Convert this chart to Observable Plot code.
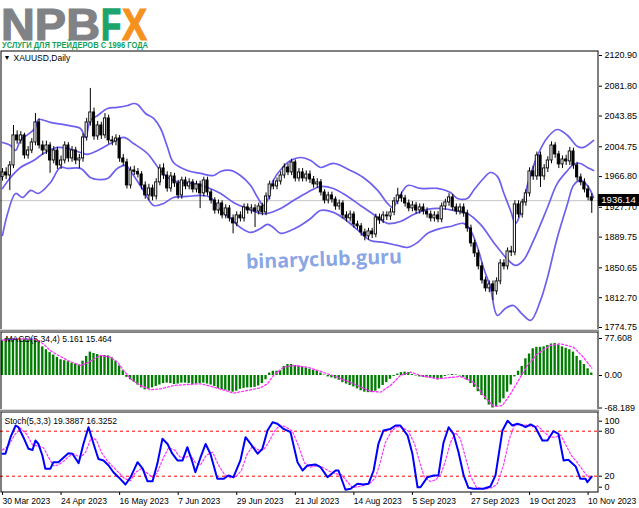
<!DOCTYPE html>
<html><head><meta charset="utf-8">
<script src="https://cdn.jsdelivr.net/npm/d3@7"></script>
<script src="https://cdn.jsdelivr.net/npm/@observablehq/plot@0.6"></script>
<style>
html,body{margin:0;padding:0;background:#fff;}
#wrap{position:relative;width:639px;height:508px;overflow:hidden;background:#fff;font-family:"Liberation Sans",Arial,sans-serif;}
.pane{position:absolute;left:0;}
.sep{position:absolute;left:0;width:599px;height:3px;background:#8c8c8c;border-top:1px solid #d8d8d8;box-sizing:border-box;}
#tag{position:absolute;left:598px;width:41px;height:12px;background:#000;color:#fff;font-size:9.5px;line-height:12px;text-align:center;}
</style></head><body>
<div id="wrap">
<svg id="logo" width="639" height="50" style="position:absolute;left:0;top:0">
  <text x="1" y="39.5" font-family="Liberation Sans, Arial" font-weight="bold" font-size="44" fill="#808285" stroke="#808285" stroke-width="1.2" textLength="99" lengthAdjust="spacingAndGlyphs">NPB</text>
  <text x="0" y="0" transform="translate(101,39.5) scale(1,1.333)" font-family="Liberation Sans, Arial" font-weight="bold" font-size="33" fill="#1ca46d" stroke="#1ca46d" stroke-width="1">F</text>
  <text x="0" y="0" transform="translate(122,39.5) scale(1,1.173)" font-family="Liberation Sans, Arial" font-weight="bold" font-size="37.5" fill="#f5911e" stroke="#f5911e" stroke-width="1">X</text>
  <text x="2" y="47.5" font-family="Liberation Sans, Arial" font-weight="bold" font-size="9.5" fill="#149f5a" textLength="146" lengthAdjust="spacingAndGlyphs">УСЛУГИ ДЛЯ ТРЕЙДЕРОВ С 1996 ГОДА</text>
</svg>
<div id="p1" class="pane" style="top:50px"></div>
<div id="p2" class="pane" style="top:331px"></div>
<div id="p3" class="pane" style="top:411px"></div>
<div class="sep" style="top:329px"></div>
<div class="sep" style="top:409px"></div>
<svg width="639" height="508" style="position:absolute;left:0;top:0;pointer-events:none">
  <text x="324" y="266" text-anchor="middle" transform="rotate(-2 324 262)" font-family="Open Sans, DejaVu Sans, sans-serif" font-weight="bold" font-size="20" fill="#7a9ae2" fill-opacity="0.9" textLength="156" lengthAdjust="spacingAndGlyphs">binaryclub.guru</text>
</svg>
</div>
<script>
// ---------- price data (XAUUSD daily, bar index 0 = 30 Mar 2023) ----------
const open = [1966.0,1972.1,1968.2,1981.0,2019.2,2012.8,2019.2,1993.7,2000.0,2010.2,2035.7,2006.4,2000.0,2006.4,1987.3,2000.0,1981.0,1987.3,2006.4,1989.9,2000.0,1987.3,1989.9,2016.6,2035.7,2048.4,2017.9,2031.9,2019.2,2040.8,2012.8,2011.5,2015.3,1989.9,1984.8,1955.5,1974.6,1972.8,1969.5,1955.5,1942.8,1951.7,1941.5,1959.4,1977.2,1968.2,1951.7,1967.0,1958.1,1942.8,1961.9,1954.3,1959.4,1950.4,1956.8,1945.4,1961.9,1946.6,1936.4,1923.7,1932.6,1917.4,1926.3,1913.6,1907.2,1917.4,1913.6,1927.6,1923.7,1926.3,1922.4,1928.8,1921.2,1941.5,1956.8,1954.3,1960.6,1968.2,1978.4,1972.1,1984.8,1964.4,1972.1,1964.4,1969.5,1963.1,1956.8,1959.4,1946.6,1936.4,1942.8,1937.7,1928.8,1932.6,1917.4,1913.6,1918.6,1905.9,1903.4,1895.7,1890.7,1897.0,1893.2,1914.8,1911.0,1917.4,1916.1,1921.2,1935.2,1942.8,1939.0,1932.6,1926.3,1930.1,1923.7,1927.6,1922.4,1918.6,1913.6,1917.4,1912.3,1928.8,1933.9,1940.3,1927.6,1922.4,1927.6,1919.9,1900.8,1881.8,1869.0,1852.5,1834.7,1824.5,1829.6,1820.7,1833.4,1856.3,1852.5,1871.6,1870.3,1931.4,1918.6,1933.9,1945.4,1973.4,1967.0,1993.7,1967.0,1977.2,1987.3,2006.4,1995.0,1982.3,1988.6,1986.1,1998.8,1981.0,1965.7,1959.4,1950.4,1940.3];
const high = [1977,1978,1986,2031.8,2025,2024,2022,2005,2015,2047,2040,2012,2012,2010,2005,2004,1993,2011,2010,2005,2004,1995,2021,2041,2079,2054,2037,2036,2047,2045,2018,2020,2019,1995,1989,1979,1980,1977,1973,1960,1957,1956,1964,1982,1983,1973,1972,1971,1962,1966,1966,1964,1963,1961,1961,1966,1966,1950,1940,1937,1936,1931,1930,1918,1922,1922,1932,1932,1931,1931,1933,1933,1946,1961,1962,1965,1973,1983,1983,1989,1988,1977,1977,1974,1974,1967,1964,1963,1950,1947,1947,1941,1937,1936,1922,1923,1922,1910,1907,1900,1901,1901,1919,1919,1922,1922,1926,1940,1952,1947,1943,1937,1935,1934,1932,1932,1927,1923,1922,1922,1933,1938,1945,1944,1932,1932,1932,1924,1905,1886,1873,1857,1839,1834,1834,1838,1861,1861,1876,1878,1936,1936,1938,1950,1978,1980,1998,1998,1982,1992,2011,2010,1999,1993,1994,2004,2003,1985,1970,1964,1955,1945];
const low = [1961,1963,1949,1977,2008,2008,1989,1989,1996,2006,2002,1994,1995,1971,1983,1976,1976,1983,1985,1985,1982,1977,1985,2012,2031,2013,2013,2014,2015,2008,2006,2006,1985,1980,1951,1951,1968,1965,1950,1938,1936,1936,1937,1955,1963,1947,1947,1953,1938,1938,1950,1950,1946,1946,1926,1941,1942,1932,1919,1919,1913,1913,1909,1894,1903,1909,1909,1919,1919,1902,1918,1917,1917,1937,1950,1950,1956,1964,1968,1968,1960,1960,1960,1960,1958,1952,1952,1942,1932,1932,1933,1924,1924,1913,1909,1909,1901,1899,1891,1885,1886,1888,1889,1906,1907,1911,1911,1917,1931,1934,1928,1922,1922,1919,1919,1918,1914,1909,1909,1908,1908,1924,1929,1923,1918,1918,1915,1896,1877,1864,1848,1830,1820,1819,1809,1816,1829,1848,1848,1865,1866,1914,1914,1929,1941,1962,1962,1953,1962,1972,1983,1990,1977,1977,1981,1981,1976,1961,1955,1946,1936,1920];
const close = [1972.1,1968.2,1981.0,2019.2,2012.8,2019.2,1993.7,2000.0,2010.2,2035.7,2006.4,2000.0,2006.4,1987.3,2000.0,1981.0,1987.3,2006.4,1989.9,2000.0,1987.3,1989.9,2016.6,2035.7,2048.4,2017.9,2031.9,2019.2,2040.8,2012.8,2011.5,2015.3,1989.9,1984.8,1955.5,1974.6,1972.8,1969.5,1955.5,1942.8,1951.7,1941.5,1959.4,1977.2,1968.2,1951.7,1967.0,1958.1,1942.8,1961.9,1954.3,1959.4,1950.4,1956.8,1945.4,1961.9,1946.6,1936.4,1923.7,1932.6,1917.4,1926.3,1913.6,1907.2,1917.4,1913.6,1927.6,1923.7,1926.3,1922.4,1928.8,1921.2,1941.5,1956.8,1954.3,1960.6,1968.2,1978.4,1972.1,1984.8,1964.4,1972.1,1964.4,1969.5,1963.1,1956.8,1959.4,1946.6,1936.4,1942.8,1937.7,1928.8,1932.6,1917.4,1913.6,1918.6,1905.9,1903.4,1895.7,1890.7,1897.0,1893.2,1914.8,1911.0,1917.4,1916.1,1921.2,1935.2,1942.8,1939.0,1932.6,1926.3,1930.1,1923.7,1927.6,1922.4,1918.6,1913.6,1917.4,1912.3,1928.8,1933.9,1940.3,1927.6,1922.4,1927.6,1919.9,1900.8,1881.8,1869.0,1852.5,1834.7,1824.5,1829.6,1820.7,1833.4,1856.3,1852.5,1871.6,1870.3,1931.4,1918.6,1933.9,1945.4,1973.4,1967.0,1993.7,1967.0,1977.2,1987.3,2006.4,1995.0,1982.3,1988.6,1986.1,1998.8,1981.0,1965.7,1959.4,1950.4,1940.3,1936.14];
const lastPrice = 1936.14;

// ---------- Bollinger bands (read at sample bars) ----------
const bbUpIdx = [0,2.2,3.6,4.9,7.7,9.0,9.8,13.1,17.8,21.3,22.7,24.0,26.0,28.7,31.4,34.2,35.8,36.9,39.1,41.3,43.2,45.1,46.7,50.5,54.1,57.7,59.6,62.3,65.0,67.8,69.7,71.3,72.4,74.0,76.5,78.7,81.4,84.2,86.9,90.4,95.1,98.6,102.5,105.2,106.6,108.2,110.7,114.2,118.9,122.4,124.3,127.0,128.7,131.4,133.3,135.2,136.9,138.8,140.2,141.5,143.4,146.2,148.9,151.6,154.4,157.1,158.7,161.5];
const bbUp = [2010.2,2006.4,2000.0,2012.8,2023.0,2029.3,2039.5,2035.7,2031.9,2028.0,2016.6,2038.2,2044.6,2053.5,2054.8,2057.3,2059.8,2058.6,2047.1,2040.8,2028.0,2003.9,1984.8,1974.6,1970.8,1968.2,1973.3,1974.6,1968.2,1955.5,1940.2,1930.1,1936.4,1961.9,1978.4,1987.3,1991.1,1987.3,1978.4,1983.5,1974.6,1965.7,1949.2,1932.6,1927.5,1939.0,1955.5,1951.7,1951.7,1946.6,1939.0,1939.0,1949.2,1964.4,1972.0,1967.0,1946.6,1923.7,1907.2,1919.9,1955.5,1993.7,2016.6,2026.7,2019.1,2005.1,2003.9,2012.8];
const bbMidIdx = [0,2.2,4.9,8.5,11.2,15.0,17.8,21.3,23.2,26.0,29.5,33.1,35.8,39.6,42.3,45.1,48.6,52.2,56.0,59.6,63.1,66.9,70.5,72.4,76.0,79.5,83.3,86.9,90.4,94.3,97.8,101.4,105.2,108.7,112.3,116.1,119.7,123.2,127.0,130.6,134.2,138.0,140.2,142.3,145.1,148.9,151.6,154.4,156.0,157.9,159.8,161.5];
const bbMid = [1951.7,1965.7,1978.4,1987.3,1996.2,2003.9,2002.6,1997.5,1995.0,2000.0,2008.9,2016.6,2008.9,1996.2,1979.7,1965.7,1959.3,1958.1,1953.0,1945.3,1933.9,1926.2,1919.9,1919.9,1926.2,1936.4,1946.6,1954.2,1951.7,1941.5,1930.1,1918.6,1907.2,1909.7,1918.6,1925.0,1926.2,1923.7,1919.9,1905.9,1883.0,1861.4,1853.7,1860.1,1885.5,1927.5,1958.1,1974.6,1982.2,1983.5,1978.4,1974.6];
const bbLoIdx = [0,1.4,3.6,5.5,7.7,9.8,13.1,15.8,17.8,21.3,24.0,26.0,28.7,31.4,33.6,35.8,38.5,41.3,44.0,46.7,50.5,54.1,56.8,59.6,62.3,65.0,67.8,70.5,72.4,74.0,76.0,78.7,81.4,84.2,86.9,90.4,94.3,97.8,100.5,104.1,107.9,110.7,113.4,116.1,119.7,122.4,126.0,127.9,129.8,131.4,133.3,135.2,137.4,139.6,141.8,144.3,147.0,148.9,151.6,154.4,156.0,157.9,159.8,161.5];
const bbLo = [1891.9,1919.9,1945.3,1940.2,1949.2,1945.3,1959.3,1978.4,1977.2,1977.2,1965.7,1963.1,1964.4,1977.2,1981.0,1968.2,1949.2,1930.1,1932.6,1940.2,1941.5,1942.8,1940.2,1923.7,1913.5,1902.1,1895.7,1900.8,1905.9,1902.1,1894.5,1898.3,1904.6,1913.5,1923.7,1921.2,1909.7,1895.7,1885.5,1883.0,1879.2,1876.6,1883.0,1894.5,1900.8,1903.3,1907.2,1898.3,1876.6,1851.2,1825.7,1790.1,1799.0,1802.8,1792.7,1783.8,1809.2,1838.5,1889.4,1932.6,1955.5,1961.9,1955.5,1940.2];

// ---------- MACD(5,34,4) ----------
const macd = [73,77.608,77,77,77,77,76,76,76,75,73,60,54,48,43,38,33,31,29,26,24,22,30,40,49,46,44,42,42,41,37,30,20,10,-4,-9,-14,-20,-26,-30,-29,-26,-23,-20,-17,-16,-17,-19,-18,-16,-16,-17,-19,-18,-17,-16,-18,-20,-23,-27,-30,-31,-33,-35,-33,-29,-27,-26,-26,-25,-22,-17,-9,5,9,9,10,19,23,23,21,20,18,16,13,11,10,5,1,-3,-5,-7,-10,-15,-18,-21,-24,-28,-32,-35,-36,-36,-33,-28,-21,-15,-8,-2,3,6,7,6,2,-1,-3,-4,-5,-6,-7,-9,-6,-2,1,2,1,-1,-4,-10,-17,-25,-34,-42,-51,-62,-68.189,-65,-58,-49,-35,-20,-3,9,19,35,45,56,59,59,60,63,66,67,64,60,57,54,49,40,31,23,14,5.161];
const macdSigIdx = [0,4,9,11.2,13.1,14.5,17.8,21.3,22.7,26.8,29.5,31.4,33.1,35,37.7,40.4,43.2,46.7,50.5,54.1,57.7,61.5,63.1,66.9,70.5,72.4,74,76.8,79.5,83.3,86.9,91.5,95.9,100.5,103.3,106,108.7,111.5,114.2,118.9,121.6,125.1,128.7,131.4,134.2,136.6,138.8,141.5,143.4,146.2,149.7,152.5,156,158.7,161];
const macdSig = [74,77,76,66,52,45.5,31.4,21,24.5,42,38.4,27.9,10.5,-6.9,-21,-30,-27.9,-21,-18.9,-17.4,-24.5,-32.9,-37.1,-31.4,-25.8,-17.4,0,17.4,21,17.4,8.4,-3.6,-17.4,-32.9,-35,-21,0,6.9,0,-6.9,-4.8,-2.1,-14,-41.9,-65,-62.9,-38.4,-3.6,21,45.5,62.9,66.5,59.3,38.4,15.464];

// ---------- Stochastic(5,3,3) ----------
const stochKIdx = [0,0.8,2.2,3.6,4.4,5.7,7.1,8.2,9.0,9.8,10.9,11.7,13.1,13.9,15.3,16.7,18.0,19.1,20.8,22.1,23.5,24.9,26.2,27.6,29.0,30.3,31.7,33.6,35.0,36.9,38.3,39.6,41.0,42.3,43.7,45.1,46.4,47.8,49.2,50.5,51.9,52.7,54.1,55.5,56.8,58.7,60.4,61.7,63.1,65.0,66.4,67.8,69.7,71.0,72.4,73.8,75.1,76.8,78.7,80.6,82.0,83.3,85.5,86.9,88.8,91.0,91.8,93.7,95.1,97.0,98.6,100.0,101.4,102.7,104.1,106.0,107.4,108.7,110.7,112.0,113.4,114.2,116.1,117.8,119.1,120.5,121.9,123.2,124.6,126.0,127.3,128.7,131.4,133.3,134.7,136.6,138.0,139.3,140.7,142.1,142.9,144.3,145.6,147.5,148.9,150.5,151.9,153.3,154.6,156.6,157.9,159.3,159.8,161];
const stochK = [50,50,72,87.6,85,72,56.5,55,67.6,63,47.6,30,30,38.7,38.7,45,50.7,50,37.4,63,85.3,63,43,41,34.3,25.3,18.7,9,18.7,38.7,30,13.3,13.3,36.5,70,63,50,41,41,58.7,38.7,25.3,45,63,50,16.5,16.5,21,18.7,41,72,63,50,56.5,81,92,90,83,78.7,38.7,27.6,34.3,35.6,32,18.7,27.6,27.6,1.9,3.2,9.9,9,9.9,27.6,63,81,83,87.6,87.6,74,49.8,5.3,5.3,18.7,21,21,65,85.3,76.5,52,21,4.5,3.2,3.2,6.3,21,81,94,87.6,90,87.6,85.3,89,85.3,67.6,67.6,80,76.5,41,41.9,33,16.5,16.5,12,19.3887];
const stochDIdx = [0,1.6,3.3,4.9,6.6,8.2,9.8,11.2,12.6,13.9,15.3,16.7,18.0,19.4,21.3,22.7,24.3,25.7,27.0,28.7,30.1,31.7,33.3,35.0,36.3,38.0,39.3,41.0,42.3,44.0,45.4,47.0,48.6,50.0,51.4,52.7,54.1,55.7,57.4,59.0,60.7,62.3,63.7,65.3,66.7,68.3,69.9,71.3,72.7,74.3,75.7,77.3,79.2,80.9,82.5,83.9,86.1,87.4,89.1,91.3,92.6,94.3,95.6,97.3,98.9,100.3,101.9,103.3,104.6,106.3,107.7,109.3,110.9,112.6,113.9,115.3,116.9,118.3,119.7,121.0,122.4,123.8,125.1,126.5,127.9,129.5,132.0,133.9,135.2,136.9,138.5,139.9,141.5,143.2,144.8,146.2,147.8,149.5,151.1,152.5,154.1,155.5,157.1,158.7,159.8,161];
const stochD = [55,60,75,84,76,62,60,58,45,34,35,40,46,50,45,52,72,68,52,40,33,25,17,14,25,30,25,18,25,45,58,55,45,45,48,38,35,48,52,35,22,18,19,28,48,60,55,55,65,80,88,86,80,60,38,32,34,32,27,23,22,12,5,6,8,10,18,40,65,80,86,85,80,63,40,18,13,15,22,40,65,78,70,45,20,5,3,5,10,35,70,88,89,88,86,87,80,72,72,75,60,47,38,27,20,16.3252];

// ---------- axes ----------
const priceTicks = [2120.90, 2081.80, 2043.85, 2004.75, 1966.80, 1927.70, 1889.75, 1850.65, 1812.70, 1774.75];
const macdTicks = [77.608, 0, -68.189];
const dateTickIdx = [0,16,32,48,64,80,96,112,128,144,160];
const dateTickLabels = ["30 Mar 2023","24 Apr 2023","16 May 2023","7 Jun 2023","29 Jun 2023","21 Jul 2023","14 Aug 2023","5 Sep 2023","27 Sep 2023","19 Oct 2023","10 Nov 2023"];

// ---------- build ----------
const BB = "#6d5ff0";
const FONT = "Liberation Sans, Arial, sans-serif";
const xDomain = [-0.5464, 162.841];
const base = (h, mb) => ({
  width: 639, height: h, marginLeft: 0, marginRight: 41, marginTop: 0, marginBottom: mb,
  x: {domain: xDomain, axis: null},
  style: {fontFamily: FONT, fontSize: "9px", background: "transparent", overflow: "visible", color: "#000"}
});
const pts = (idx, vals) => idx.map((i, k) => ({i, v: vals[k]}));
const bars = close.map((c, i) => ({i, o: open[i], h: high[i], l: low[i], c}));

const main = Plot.plot({
  ...base(281, 0),
  y: {domain: [1769.66, 2127.26], axis: null},
  marks: [
    Plot.ruleY([lastPrice], {stroke: "#c4c4c4", strokeWidth: 1}),
    Plot.line(pts(bbUpIdx, bbUp), {x: "i", y: "v", stroke: BB, strokeWidth: 1.7, curve: "catmull-rom"}),
    Plot.line(pts(bbMidIdx, bbMid), {x: "i", y: "v", stroke: BB, strokeWidth: 1.7, curve: "catmull-rom"}),
    Plot.line(pts(bbLoIdx, bbLo), {x: "i", y: "v", stroke: BB, strokeWidth: 1.7, curve: "catmull-rom"}),
    Plot.ruleX(bars, {x: "i", y1: "l", y2: "h", stroke: "#000", strokeWidth: 1}),
    Plot.rect(bars, {x1: d => d.i - 0.3, x2: d => d.i + 0.3, y1: "o", y2: "c",
      fill: d => d.c >= d.o ? "#ffffff" : "#000000", stroke: "#000", strokeWidth: 0.9}),
    Plot.frame({stroke: "#000", strokeWidth: 1, inset: 0.5}),
    Plot.axisY(priceTicks, {anchor: "right", tickSize: 3, tickPadding: 3, label: null,
      tickFormat: d => d.toFixed(2), fontSize: 9, fill: "#000"}),
    Plot.text(["▼"], {frameAnchor: "top-left", dx: 3, dy: 5, textAnchor: "start", lineAnchor: "top", fontSize: 7}),
    Plot.text(["XAUUSD,Daily"], {frameAnchor: "top-left", dx: 13, dy: 4, textAnchor: "start", lineAnchor: "top", fontSize: 8.5})
  ]
});
document.getElementById("p1").appendChild(main);

const macdChart = Plot.plot({
  ...base(80, 0),
  y: {domain: [-75.5, 92.2], axis: null},
  marks: [
    Plot.rect(macd.map((v, i) => ({i, v})), {x1: d => d.i - 0.32, x2: d => d.i + 0.32, y1: d => 0, y2: "v", fill: "#007d00"}),
    Plot.line(pts(macdSigIdx, macdSig), {x: "i", y: "v", stroke: "#ff33ff", strokeWidth: 1.3, strokeDasharray: "2,2"}),
    Plot.frame({stroke: "#000", strokeWidth: 1, inset: 0.5}),
    Plot.axisY(macdTicks, {anchor: "right", tickSize: 3, tickPadding: 3, label: null,
      tickFormat: d => d === 0 ? "0.00" : String(d), fontSize: 9, fill: "#000"}),
    Plot.text(["MACD(5,34,4) 5.161 15.464"], {frameAnchor: "top-left", dx: 5, dy: 4, textAnchor: "start", lineAnchor: "top", fontSize: 8.5})
  ]
});
document.getElementById("p2").appendChild(macdChart);

const stochChart = Plot.plot({
  ...base(97, 16),
  y: {domain: [-1.73, 106.27], axis: null},
  marks: [
    Plot.ruleY([20, 80], {stroke: "#ff0000", strokeWidth: 1, strokeDasharray: "3,3"}),
    Plot.line(pts(stochDIdx, stochD), {x: "i", y: "v", stroke: "#ff33ff", strokeWidth: 1.2, strokeDasharray: "2,2"}),
    Plot.line(pts(stochKIdx, stochK), {x: "i", y: "v", stroke: "#0000ff", strokeWidth: 2}),
    Plot.frame({stroke: "#000", strokeWidth: 1, inset: 0.5}),
    Plot.axisY([20, 80], {anchor: "right", tickSize: 3, tickPadding: 3, label: null, fontSize: 9, fill: "#000"}),
    Plot.axisY([100], {anchor: "right", tickSize: 3, tickPadding: 3, label: null, fontSize: 9, fill: "#000", dy: 5}),
    Plot.axisY([0], {anchor: "right", tickSize: 3, tickPadding: 3, label: null, fontSize: 9, fill: "#000", dy: -4}),
    Plot.axisX(dateTickIdx, {anchor: "bottom", tickSize: 3, tickPadding: 2, label: null,
      tickFormat: d => dateTickLabels[dateTickIdx.indexOf(d)], textAnchor: "start", fontSize: 8.5, fill: "#000"}),
    Plot.text(["Stoch(5,3,3) 19.3887 16.3252"], {frameAnchor: "top-left", dx: 4, dy: 6, textAnchor: "start", lineAnchor: "top", fontSize: 8.5})
  ]
});
document.getElementById("p3").appendChild(stochChart);

// last-price tag placed through the price scale
const py = main.scale("y").apply(lastPrice);
const tag = document.createElement("div");
tag.id = "tag";
tag.style.top = (50 + py - 6) + "px";
tag.textContent = "1936.14";
document.getElementById("wrap").appendChild(tag);
</script>
</body></html>
